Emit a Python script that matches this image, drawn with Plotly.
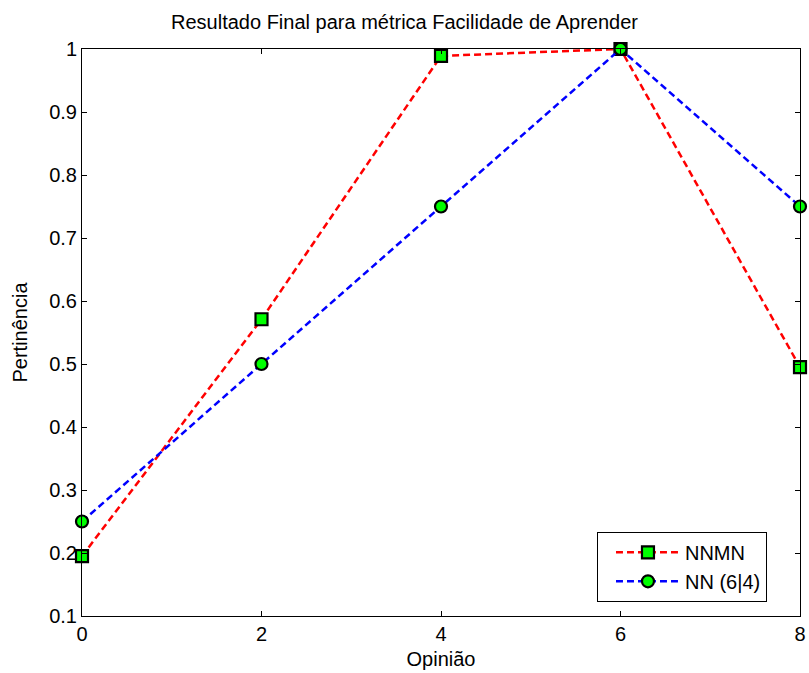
import plotly.graph_objects as go

opiniao = [0, 2, 4, 6, 8]
nnmn = [0.195, 0.571, 0.989, 1.0, 0.495]
nn64 = [0.25, 0.5, 0.75, 1.0, 0.75]
names = ["NNMN", "NN (6|4)"]

FS = 20

fig = go.Figure()
fig.add_trace(go.Scatter(
    x=opiniao, y=nnmn, name=names[0], mode="lines+markers",
    line=dict(color="#ff0000", width=2.5, dash="7px,4px"),
    marker=dict(symbol="square", size=12, color="#00ff00", line=dict(color="black", width=2.2)),
    cliponaxis=False,
))
fig.add_trace(go.Scatter(
    x=opiniao, y=nn64, name=names[1], mode="lines+markers",
    line=dict(color="#0000ff", width=2.5, dash="7px,4px"),
    marker=dict(symbol="circle", size=12, color="#00ff00", line=dict(color="black", width=2.2)),
    cliponaxis=False,
))

axis_common = dict(
    showline=True, linecolor="black", linewidth=1, mirror="ticks",
    ticks="inside", ticklen=5, tickcolor="black", showgrid=False, zeroline=False,
    tickfont=dict(size=FS, color="black"), automargin=False,
)
fig.update_layout(
    width=809, height=673,
    margin=dict(l=82, r=9, t=49, b=57),
    paper_bgcolor="white", plot_bgcolor="white",
    font=dict(family="Liberation Sans, Arial, sans-serif", color="black", size=FS),
    title=dict(text="Resultado Final para métrica Facilidade de Aprender", x=0.5, xanchor="center",
               y=1 - 22 / 673, yanchor="middle", font=dict(size=FS)),
    xaxis=dict(range=[0, 8], dtick=2, title=dict(text="Opinião", standoff=7, font=dict(size=FS)), **axis_common),
    yaxis=dict(range=[0.1, 1], dtick=0.1, title=dict(text="Pertinência", standoff=16, font=dict(size=FS)), **axis_common),
    legend=dict(x=0.954, y=0.025, xanchor="right", yanchor="bottom",
                bgcolor="white", bordercolor="black", borderwidth=1,
                font=dict(size=FS), itemwidth=64, indentation=13),
    showlegend=True,
)
fig.write_html("out.html", config={"displayModeBar": False},
               post_script="document.body.style.margin='0';document.body.style.overflow='hidden';")
